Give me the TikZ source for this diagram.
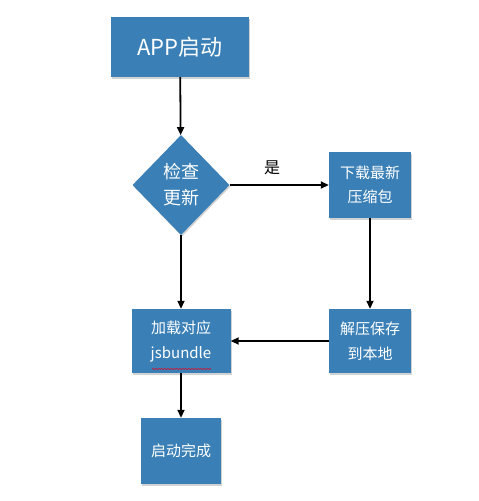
\documentclass[tikz,border=0pt]{standalone}
\usepackage{fontspec}
\setmainfont{Noto Sans CJK SC}
\usetikzlibrary{shapes.geometric,arrows.meta,decorations.pathmorphing,shadows}
\definecolor{boxblue}{RGB}{58,128,182}
\tikzset{
  box/.style={rectangle,fill=boxblue,text=white,inner sep=0pt,align=center,
    drop shadow={shadow xshift=1pt,shadow yshift=-1.5pt,opacity=0.35}},
  dia/.style={diamond,fill=boxblue,text=white,inner sep=0pt,align=center,
    minimum width=97pt,minimum height=100pt,
    drop shadow={shadow xshift=1pt,shadow yshift=-1.5pt,opacity=0.35}},
  conn/.style={-{Triangle[length=8pt,width=7pt]},line width=1.8pt,black}
}
\begin{document}
\begin{tikzpicture}[x=1pt,y=-1pt]
\useasboundingbox[fill=white] (0,0) rectangle (479,501);
\node[box,minimum width=138pt,minimum height=60pt,font=\fontsize{22}{24}\selectfont] (app) at (180,47) {APP启动};
\node[dia,font=\fontsize{18}{26}\selectfont] (chk) at (181,185) {检查\\更新};
\node[box,minimum width=82pt,minimum height=66pt,font=\fontsize{15}{24}\selectfont] (dl) at (370,185) {下载最新\\压缩包};
\node[box,minimum width=99pt,minimum height=64pt,font=\fontsize{15}{25}\selectfont] (load) at (181,341) {加载对应\\jsbundle};
\node[box,minimum width=82pt,minimum height=64pt,font=\fontsize{15}{25}\selectfont] (unz) at (370,341) {解压保存\\到本地};
\node[box,minimum width=80pt,minimum height=66pt,font=\fontsize{15}{20}\selectfont] (done) at (181,451) {启动完成};
\node[font=\fontsize{16}{18}\selectfont] (yes) at (272,168) {是};
\draw[red!60!purple,line width=0.6pt,decorate,decoration={snake,amplitude=0.5pt,segment length=3pt}] (152,369) -- (211,369);
\draw[conn] (app) -- (chk);
\draw[conn] (chk) -- (dl);
\draw[conn] (dl) -- (unz);
\draw[conn] (chk) -- (load);
\draw[conn] (unz) -- (load);
\draw[conn] (load) -- (done);
\end{tikzpicture}
\end{document}
